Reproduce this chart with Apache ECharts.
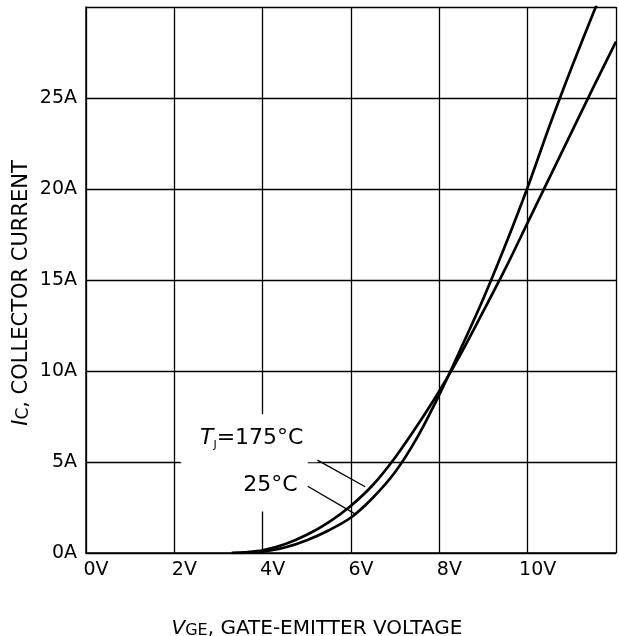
<!DOCTYPE html>
<html>
<head>
<meta charset="utf-8">
<script src="https://cdn.jsdelivr.net/npm/echarts@6/dist/echarts.min.js"></script>
<style>
  html, body { margin: 0; padding: 0; background: #fff; }
  #chart { width: 619px; height: 636px; }
</style>
</head>
<body>
<div id="chart"></div>
<script>
// ---- data ----
const vge175 = [3.3, 3.6, 4.0, 4.5, 5.0, 5.5, 6.0, 6.5, 7.0, 7.5, 8.0, 8.5, 9.0, 9.5, 10.0, 10.5, 11.0, 11.5, 12.0];
const ic175  = [0, 0.04, 0.15, 0.48, 1.0, 1.7, 2.6, 3.75, 5.25, 7.0, 8.9, 11.0, 13.3, 15.65, 18.15, 20.65, 23.15, 25.65, 28.1];
const vge25  = [3.3, 3.6, 4.0, 4.5, 5.0, 5.5, 6.0, 6.5, 7.0, 7.5, 8.0, 8.5, 9.0, 9.5, 10.0, 10.5, 11.0, 11.5, 11.7];
const ic25   = [0, 0.02, 0.08, 0.3, 0.7, 1.25, 1.95, 3.05, 4.45, 6.35, 8.7, 11.3, 14.0, 16.95, 20.1, 23.5, 26.7, 29.75, 30.9];
const xTickLabels = ['0V', '2V', '4V', '6V', '8V', '10V', ''];
const yTickLabels = ['0A', '5A', '10A', '15A', '20A', '25A', ''];
// annotation leader lines (data coordinates)
const leader175 = [[5.24, 5.10], [6.32, 3.64]];
const leader25  = [[5.02, 3.67], [6.12, 2.11]];
// annotation label anchors (data coordinates)
const label175Anchor = [5.24, 6.30];
const label25Anchor  = [5.02, 3.68];

const FONT = 'DejaVu Sans';
const zip = (xs, ys) => xs.map((x, i) => [x, ys[i]]);

const chart = echarts.init(document.getElementById('chart'), null, { renderer: 'canvas' });

const labelSeries = (name, anchor, formatter, padding, rich) => ({
  name, type: 'scatter', z: 3, symbolSize: 0, silent: true,
  itemStyle: { opacity: 1 },
  emphasis: { disabled: true },
  data: [anchor],
  label: {
    show: true, position: 'left', distance: 0, opacity: 1,
    backgroundColor: '#ffffff', padding, formatter, rich
  }
});

const option = {
  animation: false,
  backgroundColor: '#fff',
  grid: { left: 86, top: 7, width: 536, height: 546, containLabel: false },
  xAxis: {
    type: 'value', min: 0, max: 12, interval: 2,
    axisLine: { show: true, onZero: false, lineStyle: { color: '#000', width: 1.5 } },
    axisTick: { show: false },
    splitLine: { show: true, lineStyle: { color: '#000', width: 1.3 } },
    axisLabel: {
      color: '#000', fontFamily: FONT, fontSize: 19, margin: 8,
      padding: [0, 0, 0, 20],
      formatter: v => xTickLabels[Math.round(v / 2)] ?? ''
    }
  },
  yAxis: {
    type: 'value', min: 0, max: 30, interval: 5,
    axisLine: { show: true, onZero: false, lineStyle: { color: '#000', width: 1.5 } },
    axisTick: { show: false },
    splitLine: { show: true, lineStyle: { color: '#000', width: 1.3 } },
    axisLabel: {
      color: '#000', fontFamily: FONT, fontSize: 19, margin: 9,
      padding: [0, 0, 9, 0],
      formatter: v => yTickLabels[Math.round(v / 5)] ?? ''
    }
  },
  graphic: [
    {
      type: 'text', x: 317, y: 627, z: 10,
      style: {
        text: '{i|V}{s|GE}{n|, GATE-EMITTER VOLTAGE}',
        align: 'center', verticalAlign: 'middle', fill: '#000',
        rich: {
          i: { fontFamily: FONT, fontSize: 20, fontStyle: 'italic', lineHeight: 24, verticalAlign: 'bottom', color: '#000' },
          s: { fontFamily: FONT, fontSize: 16, lineHeight: 20, verticalAlign: 'bottom', color: '#000' },
          n: { fontFamily: FONT, fontSize: 20, lineHeight: 24, verticalAlign: 'bottom', color: '#000' }
        }
      }
    },
    {
      type: 'text', x: 20, y: 293, rotation: Math.PI / 2, z: 10,
      style: {
        text: '{i|I}{s|C}{n|, COLLECTOR CURRENT}',
        align: 'center', verticalAlign: 'middle', fill: '#000',
        rich: {
          i: { fontFamily: FONT, fontSize: 21, fontStyle: 'italic', lineHeight: 25, verticalAlign: 'bottom', color: '#000' },
          s: { fontFamily: FONT, fontSize: 17, lineHeight: 21, verticalAlign: 'bottom', color: '#000' },
          n: { fontFamily: FONT, fontSize: 21, lineHeight: 25, verticalAlign: 'bottom', color: '#000' }
        }
      }
    }
  ],
  series: [
    labelSeries('label175', label175Anchor, '{t|T}{j|J}{n|=175°C}', [12, 14, 12, 20], {
      t: { fontFamily: FONT, fontSize: 22, fontStyle: 'italic', lineHeight: 24, color: '#000' },
      j: { fontFamily: FONT, fontSize: 11, lineHeight: 16, verticalAlign: 'bottom', color: '#000' },
      n: { fontFamily: FONT, fontSize: 22, lineHeight: 24, color: '#000' }
    }),
    labelSeries('label25', label25Anchor, '{n|25°C}', [13, 10, 14, 62], {
      n: { fontFamily: FONT, fontSize: 22, lineHeight: 24, color: '#000' }
    }),
    {
      name: 'TJ=175°C', type: 'line', z: 5, smooth: 0.3, showSymbol: false, silent: true,
      lineStyle: { color: '#000', width: 2.7 },
      data: zip(vge175, ic175)
    },
    {
      name: '25°C', type: 'line', z: 5, smooth: 0.3, showSymbol: false, silent: true,
      lineStyle: { color: '#000', width: 2.7 },
      data: zip(vge25, ic25)
    },
    {
      name: 'leader175', type: 'line', z: 6, showSymbol: false, silent: true,
      lineStyle: { color: '#000', width: 1.3 },
      data: leader175
    },
    {
      name: 'leader25', type: 'line', z: 6, showSymbol: false, silent: true,
      lineStyle: { color: '#000', width: 1.3 },
      data: leader25
    }
  ]
};

chart.setOption(option);
</script>
</body>
</html>
